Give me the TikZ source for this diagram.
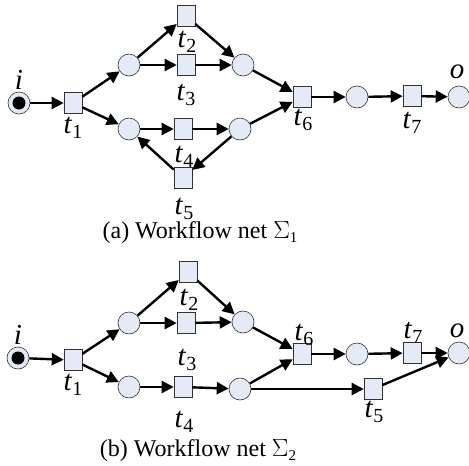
\documentclass[tikz,border=0pt]{standalone}
\usepackage{fontspec}
\setmainfont{Liberation Serif}
\usetikzlibrary{arrows.meta,positioning}

\definecolor{placefill}{RGB}{228,234,246}

\tikzset{
    place/.style={circle, draw=black!80, fill=placefill, line width=0.6pt,
        minimum size=22pt, inner sep=0pt},
    trans/.style={rectangle, draw=black!80, fill=placefill, line width=0.6pt,
        minimum width=18pt, minimum height=21pt, inner sep=0pt},
    token/.style={circle, fill=black, minimum size=13pt, inner sep=0pt},
    arc/.style={line width=2.4pt, -{Triangle[length=12pt,width=12pt]}},
    lbl/.style={inner sep=0pt, anchor=north, font=\fontsize{29}{29}\selectfont},
    plbl/.style={inner sep=0pt, font=\fontsize{29}{29}\selectfont\itshape},
    capt/.style={inner sep=0pt, font=\fontsize{24}{24}\selectfont}
}

\newcommand{\tsub}[1]{\textit{t}\raisebox{-0.35ex}{\fontsize{20}{20}\selectfont #1}}
\newcommand{\sigsub}[1]{$\Sigma$\raisebox{-0.35ex}{\fontsize{15}{15}\selectfont #1}}

\begin{document}
\begin{tikzpicture}[x=1pt,y=-1pt]
    \useasboundingbox (0,0) rectangle (469,466);

    % (a) workflow net 1
    \node[place] (ia) at (19,103) {};
    \node[token] (toka) at (ia) {};
    \node[trans] (t1a) at (73,103) {};
    \node[place] (p1a) at (129,65) {};
    \node[place] (p2a) at (129,129) {};
    \node[trans] (t2a) at (186,16) {};
    \node[trans] (t3a) at (186,65) {};
    \node[place] (p3a) at (243,65) {};
    \node[trans] (t4a) at (183,129) {};
    \node[place] (p4a) at (240,129) {};
    \node[trans] (t5a) at (183,178) {};
    \node[trans] (t6a) at (302,97) {};
    \node[place] (p5a) at (357,97) {};
    \node[trans] (t7a) at (412,96) {};
    \node[place] (oa) at (459,97) {};

    \draw[arc] (ia) -- (t1a);
    \draw[arc] (t1a) -- (p1a);
    \draw[arc] (t1a) -- (p2a);
    \draw[arc] (p1a) -- (t2a);
    \draw[arc] (p1a) -- (t3a);
    \draw[arc] (t2a) -- (p3a);
    \draw[arc] (t3a) -- (p3a);
    \draw[arc] (p2a) -- (t4a);
    \draw[arc] (t4a) -- (p4a);
    \draw[arc] (p4a) -- (t5a);
    \draw[arc] (t5a) -- (p2a);
    \draw[arc] (p3a) -- (t6a);
    \draw[arc] (p4a) -- (t6a);
    \draw[arc] (t6a) -- (p5a);
    \draw[arc] (p5a) -- (t7a);
    \draw[arc] (t7a) -- (oa);

    \node[plbl] (lia) at (19,80) {i};
    \node[plbl] (loa) at (457,72) {o};
    \node[lbl] (lt1a) at (73,117) {\tsub{1}};
    \node[lbl] (lt2a) at (187,31) {\tsub{2}};
    \node[lbl] (lt3a) at (186,84) {\tsub{3}};
    \node[lbl] (lt4a) at (184,146) {\tsub{4}};
    \node[lbl] (lt5a) at (184,198) {\tsub{5}};
    \node[lbl] (lt6a) at (303,109) {\tsub{6}};
    \node[lbl] (lt7a) at (412,112) {\tsub{7}};

    \node[capt] (capa) at (200,233) {(a) Workflow net \sigsub{1}};

    % (b) workflow net 2
    \node[place] (ib) at (18,358) {};
    \node[token] (tokb) at (ib) {};
    \node[trans] (t1b) at (73,360) {};
    \node[place] (p1b) at (129,323) {};
    \node[place] (p2b) at (129,387) {};
    \node[trans] (t2b) at (188,272) {};
    \node[trans] (t3b) at (186,323) {};
    \node[place] (p3b) at (243,322) {};
    \node[trans] (t4b) at (183,387) {};
    \node[place] (p4b) at (240,389) {};
    \node[trans] (t5b) at (373,389) {};
    \node[trans] (t6b) at (302,354) {};
    \node[place] (p5b) at (357,354) {};
    \node[trans] (t7b) at (412,353) {};
    \node[place] (ob) at (459,353) {};

    \draw[arc] (ib) -- (t1b);
    \draw[arc] (t1b) -- (p1b);
    \draw[arc] (t1b) -- (p2b);
    \draw[arc] (p1b) -- (t2b);
    \draw[arc] (p1b) -- (t3b);
    \draw[arc] (t2b) -- (p3b);
    \draw[arc] (t3b) -- (p3b);
    \draw[arc] (p2b) -- (t4b);
    \draw[arc] (t4b) -- (p4b);
    \draw[arc] (p3b) -- (t6b);
    \draw[arc] (p4b) -- (t6b);
    \draw[arc] (p4b) -- (t5b);
    \draw[arc] (t5b) -- (ob);
    \draw[arc] (t6b) -- (p5b);
    \draw[arc] (p5b) -- (t7b);
    \draw[arc] (t7b) -- (ob);

    \node[plbl] (lib) at (18,335) {i};
    \node[plbl] (lob) at (457,331) {o};
    \node[lbl] (lt1b) at (73,374) {\tsub{1}};
    \node[lbl] (lt2b) at (189,289) {\tsub{2}};
    \node[lbl] (lt3b) at (187,349) {\tsub{3}};
    \node[lbl] (lt4b) at (184,411) {\tsub{4}};
    \node[lbl] (lt5b) at (374,401) {\tsub{5}};
    \node[lbl] (lt6b) at (304,324) {\tsub{6}};
    \node[lbl] (lt7b) at (413,322) {\tsub{7}};

    \node[capt] (capb) at (198,451) {(b) Workflow net \sigsub{2}};
\end{tikzpicture}
\end{document}
